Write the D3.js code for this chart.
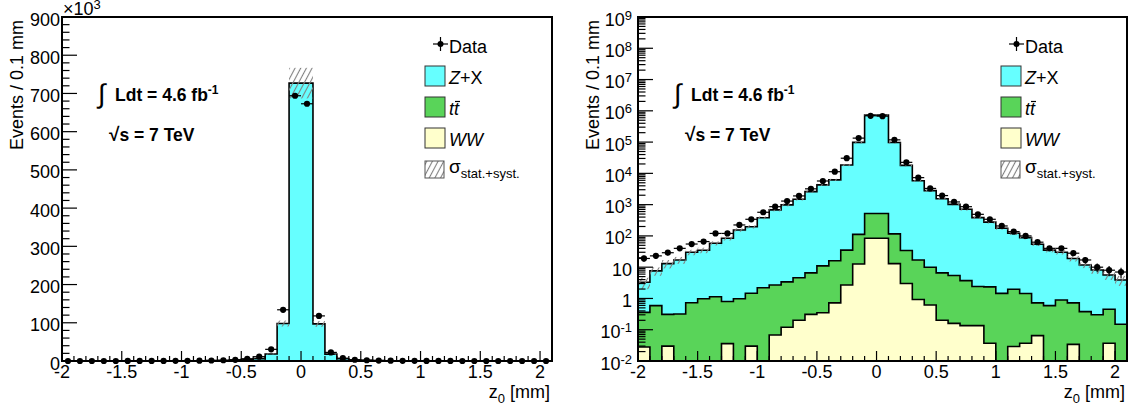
<!DOCTYPE html>
<html><head><meta charset="utf-8">
<script src="https://cdn.jsdelivr.net/npm/d3@7"></script>
<style>
body{margin:0;background:#fff}
svg{display:block}
text{font-family:"Liberation Sans",Arial,Helvetica,sans-serif;fill:#000}
</style>
</head><body>
<svg id="chart" width="1136" height="412"></svg>
<script>
// ---------------- data ----------------
const zBinCenters = [-1.95,-1.85,-1.75,-1.65,-1.55,-1.45,-1.35,-1.25,-1.15,-1.05,-0.95,-0.85,-0.75,-0.65,-0.55,-0.45,-0.35,-0.25,-0.15,-0.05,0.05,0.15,0.25,0.35,0.45,0.55,0.65,0.75,0.85,0.95,1.05,1.15,1.25,1.35,1.45,1.55,1.65,1.75,1.85,1.95,2.05];
const binWidth = 0.1;
const dataCounts = [19,23,29,40,55,66,120,120,224,340,570,860,1300,1900,3200,5700,11300,30500,134000,694000,673000,118000,22500,7300,3300,1950,1220,860,490,340,208,137,100,63,40,40,28,17,10,8,7];
const zxEvents = [2.94,7.01,12.7,16.7,29.3,34.0,56.9,83.2,154,194.5,378,677,977,1475,2593,4289,6184,18465,97888,726480,726480,96884,17966,5783,2790,1543,1015,711,383,273,173.6,119,86.6,53.3,34.4,29.1,18.3,11.3,7.8,5.15,3.75];
const ttEvents = [0.332,0.59,0.28,0.32,0.73,0.98,1.14,0.764,0.98,1.44,2.2,2.63,3.28,4.4,6.29,10.65,15.28,32.3,99.4,436,436,103,31,16.07,9.38,6.4,5.24,3.57,2.27,2.31,1.45,1.94,1.41,0.655,0.59,0.89,0.686,0.38,0.3,0.413,0.15];
const wwEvents = [0.028,0,0.03,0,0,0,0,0.036,0,0.03,0,0.068,0.12,0.2,0.31,0.35,0.72,2.7,12.6,84,84,13,3.0,0.93,0.62,0.2,0.16,0.135,0.135,0.037,0,0.029,0.037,0.065,0,0,0.034,0,0,0.037,0];
const mcRelUnc = [0.4,0.3,0.3,0.25,0.2,0.2,0.15,0.15,0.12,0.12,0.1,0.1,0.1,0.08,0.08,0.08,0.08,0.08,0.08,0.055,0.055,0.08,0.08,0.08,0.08,0.08,0.08,0.1,0.1,0.1,0.1,0.12,0.12,0.12,0.15,0.15,0.2,0.2,0.25,0.3,0.35];

const xDomain = [-2, 2.1];
const xTickValues = [-2,-1.5,-1,-0.5,0,0.5,1,1.5,2];
const xTickLabels = ["-2","-1.5","-1","-0.5","0","0.5","1","1.5","2"];
const linYTickValues = [0,100000,200000,300000,400000,500000,600000,700000,800000,900000];
const linYTickLabels = ["0","100","200","300","400","500","600","700","800","900"];
const logYExponents = [-2,-1,0,1,2,3,4,5,6,7,8,9];
const legendEntries = ["Data","Z+X","tt","WW","σ"];

const colZX = "#66ffff", colTT = "#59d459", colWW = "#ffffcc";

// ---------------- layout ----------------
const TOP = 17, BOTTOM = 361;
const panels = [{left:62, right:552, log:false}, {left:638, right:1127, log:true}];
const svg = d3.select("#chart");
const defs = svg.append("defs");
const pat = defs.append("pattern").attr("id","hatch").attr("patternUnits","userSpaceOnUse")
  .attr("width",5).attr("height",5).attr("patternTransform","rotate(28)");
pat.append("line").attr("x1",2.5).attr("y1",-1).attr("x2",2.5).attr("y2",6)
  .attr("stroke","#808080").attr("stroke-width",1.1);

function drawPanel(p){
  const g = svg.append("g");
  const x = d3.scaleLinear().domain(xDomain).range([p.left,p.right]);
  const y = p.log ? d3.scaleLog().domain([1e-2,1e9]).range([BOTTOM,TOP])
                  : d3.scaleLinear().domain([0,900000]).range([BOTTOM,TOP]);
  const yv = v => p.log ? (v<=0 ? BOTTOM : y(Math.min(Math.max(v,1e-2),1e9)))
                        : y(Math.min(Math.max(v,0),900000));

  const yellowTop = wwEvents.slice();
  const greenTop = wwEvents.map((v,i)=>v+ttEvents[i]);
  const cyanTop = greenTop.map((v,i)=>v+zxEvents[i]);

  function stepPts(vals){
    const pts = [[x(zBinCenters[0]-binWidth/2), BOTTOM]];
    vals.forEach((v,i)=>{
      const yy = yv(v);
      pts.push([x(zBinCenters[i]-binWidth/2), yy],[x(zBinCenters[i]+binWidth/2), yy]);
    });
    pts.push([x(zBinCenters[zBinCenters.length-1]+binWidth/2), BOTTOM]);
    return pts;
  }
  const line = d3.line();
  [[cyanTop,colZX],[greenTop,colTT],[yellowTop,colWW]].forEach(([vals,col])=>{
    g.append("path").attr("d", line(stepPts(vals))+"Z")
      .attr("fill",col).attr("stroke","#000").attr("stroke-width",1.6).attr("stroke-linejoin","miter");
  });

  // uncertainty band
  g.selectAll(null).data(zBinCenters).enter().append("rect")
    .attr("x",c=>x(c-binWidth/2)).attr("width",c=>x(c+binWidth/2)-x(c-binWidth/2))
    .attr("y",(c,i)=>yv(cyanTop[i]*(1+mcRelUnc[i])))
    .attr("height",(c,i)=>Math.max(0,yv(cyanTop[i]*(1-mcRelUnc[i]))-yv(cyanTop[i]*(1+mcRelUnc[i]))))
    .attr("fill","url(#hatch)");

  // data
  const dg = g.append("g").attr("stroke","#000").attr("stroke-width",1.2);
  zBinCenters.forEach((c,i)=>{
    const v = dataCounts[i], e = Math.sqrt(v);
    dg.append("line").attr("x1",x(c-binWidth/2)).attr("x2",x(c+binWidth/2)).attr("y1",yv(v)).attr("y2",yv(v));
    dg.append("line").attr("x1",x(c)).attr("x2",x(c)).attr("y1",yv(v-e)).attr("y2",yv(v+e));
    dg.append("circle").attr("cx",x(c)).attr("cy",yv(v)).attr("r",3.1).attr("fill","#000").attr("stroke","none");
  });

  // frame
  g.append("rect").attr("x",p.left).attr("y",TOP).attr("width",p.right-p.left).attr("height",BOTTOM-TOP)
    .attr("fill","none").attr("stroke","#000").attr("stroke-width",2);

  // x ticks
  const ax = g.append("g").attr("stroke","#000").attr("stroke-width",1.2);
  d3.range(-20,22).map(k=>k/10).forEach(t=>{
    const major = xTickValues.some(m=>Math.abs(m-t)<1e-9);
    ax.append("line").attr("x1",x(t)).attr("x2",x(t)).attr("y1",BOTTOM).attr("y2",BOTTOM-(major?10:5));
  });
  xTickValues.forEach((t,i)=>{
    g.append("text").attr("x",x(t)).attr("y",378).attr("text-anchor","middle").attr("font-size",18).text(xTickLabels[i]);
  });

  // y ticks
  if(!p.log){
    d3.range(0,46).map(k=>k*20000).forEach(t=>{
      const major = t%100000===0;
      ax.append("line").attr("x1",p.left).attr("x2",p.left+(major?15:7.5)).attr("y1",y(t)).attr("y2",y(t));
    });
    linYTickValues.forEach((t,i)=>{
      g.append("text").attr("x",p.left-2).attr("y",y(t)+8.5).attr("text-anchor","end").attr("font-size",18).text(linYTickLabels[i]);
    });
    const mult = g.append("text").attr("x",p.left+1).attr("y",15).attr("font-size",18);
    mult.append("tspan").text("×10");
    mult.append("tspan").attr("dy",-6).attr("font-size",13).text("3");
  } else {
    logYExponents.forEach(ex=>{
      ax.append("line").attr("x1",p.left).attr("x2",p.left+15).attr("y1",y(Math.pow(10,ex))).attr("y2",y(Math.pow(10,ex)));
      if(ex<9) d3.range(2,10).forEach(m=>{
        const v = m*Math.pow(10,ex);
        ax.append("line").attr("x1",p.left).attr("x2",p.left+7.5).attr("y1",y(v)).attr("y2",y(v));
      });
      const t = g.append("text").attr("x",p.left-6).attr("y",y(Math.pow(10,ex))+8.5).attr("text-anchor","end").attr("font-size",18);
      if(ex===0) t.text("1");
      else if(ex===1) t.text("10");
      else { t.append("tspan").text("10"); t.append("tspan").attr("dy",-6).attr("font-size",13).text(String(ex)); }
    });
  }

  // axis titles
  g.append("text").attr("transform",`translate(${p.left-39},${TOP+3}) rotate(-90)`).attr("text-anchor","end")
    .attr("font-size",18).text("Events / 0.1 mm");
  const xt = g.append("text").attr("x",p.right-2).attr("y",398).attr("text-anchor","end").attr("font-size",18);
  xt.append("tspan").text("z");
  xt.append("tspan").attr("dy",5).attr("font-size",13).text("0");
  xt.append("tspan").attr("dy",-5).text(" [mm]");

  // annotations
  g.append("text").attr("x",p.left+36).attr("y",103).attr("font-size",27).attr("font-family","DejaVu Sans").text("∫");
  const lum = g.append("text").attr("x",p.left+53).attr("y",101).attr("font-size",17.5).attr("font-weight","bold");
  lum.append("tspan").text("Ldt = 4.6 fb");
  lum.append("tspan").attr("dy",-7).attr("font-size",12).text("-1");
  const rs = g.append("text").attr("x",p.left+47).attr("y",141).attr("font-size",17.5).attr("font-weight","bold");
  rs.append("tspan").attr("font-size",19).text("√");
  rs.append("tspan").text("s = 7 TeV");

  // legend
  const lx = p.left+363, lt = p.left+387;
  const lg = g.append("g");
  lg.append("line").attr("x1",lx+8).attr("x2",lx+23).attr("y1",44).attr("y2",44).attr("stroke","#000").attr("stroke-width",1.2);
  lg.append("line").attr("x1",lx+15.5).attr("x2",lx+15.5).attr("y1",37).attr("y2",51).attr("stroke","#000").attr("stroke-width",1.2);
  lg.append("circle").attr("cx",lx+15.5).attr("cy",44).attr("r",3).attr("fill","#000");
  lg.append("text").attr("x",lt).attr("y",53).attr("font-size",18).text(legendEntries[0]);
  const boxes = [[colZX,66],[colTT,97],[colWW,128]];
  boxes.forEach(([c,yy])=>{
    lg.append("rect").attr("x",lx).attr("y",yy).attr("width",20).attr("height",20).attr("fill",c).attr("stroke","#333").attr("stroke-width",1);
  });
  const t1 = lg.append("text").attr("x",lt).attr("y",84).attr("font-size",18);
  t1.append("tspan").attr("font-style","italic").text("Z");
  t1.append("tspan").text("+X");
  const t2 = lg.append("text").attr("x",lt).attr("y",115).attr("font-size",18).attr("font-style","italic");
  t2.append("tspan").text("t");
  t2.append("tspan").text("t");
  lg.append("line").attr("x1",lt+6).attr("x2",lt+11).attr("y1",101.5).attr("y2",101.5).attr("stroke","#000").attr("stroke-width",1.2);
  lg.append("text").attr("x",lt).attr("y",146).attr("font-size",18).attr("font-style","italic").text(legendEntries[3]);
  lg.append("rect").attr("x",lx).attr("y",161).attr("width",19).attr("height",17).attr("fill","url(#hatch)").attr("stroke","#555").attr("stroke-width",1);
  const t4 = lg.append("text").attr("x",lt).attr("y",173).attr("font-size",19);
  t4.append("tspan").text(legendEntries[4]);
  t4.append("tspan").attr("dy",5).attr("font-size",13).text("stat.+syst.");
}
panels.forEach(drawPanel);
</script>
</body></html>
